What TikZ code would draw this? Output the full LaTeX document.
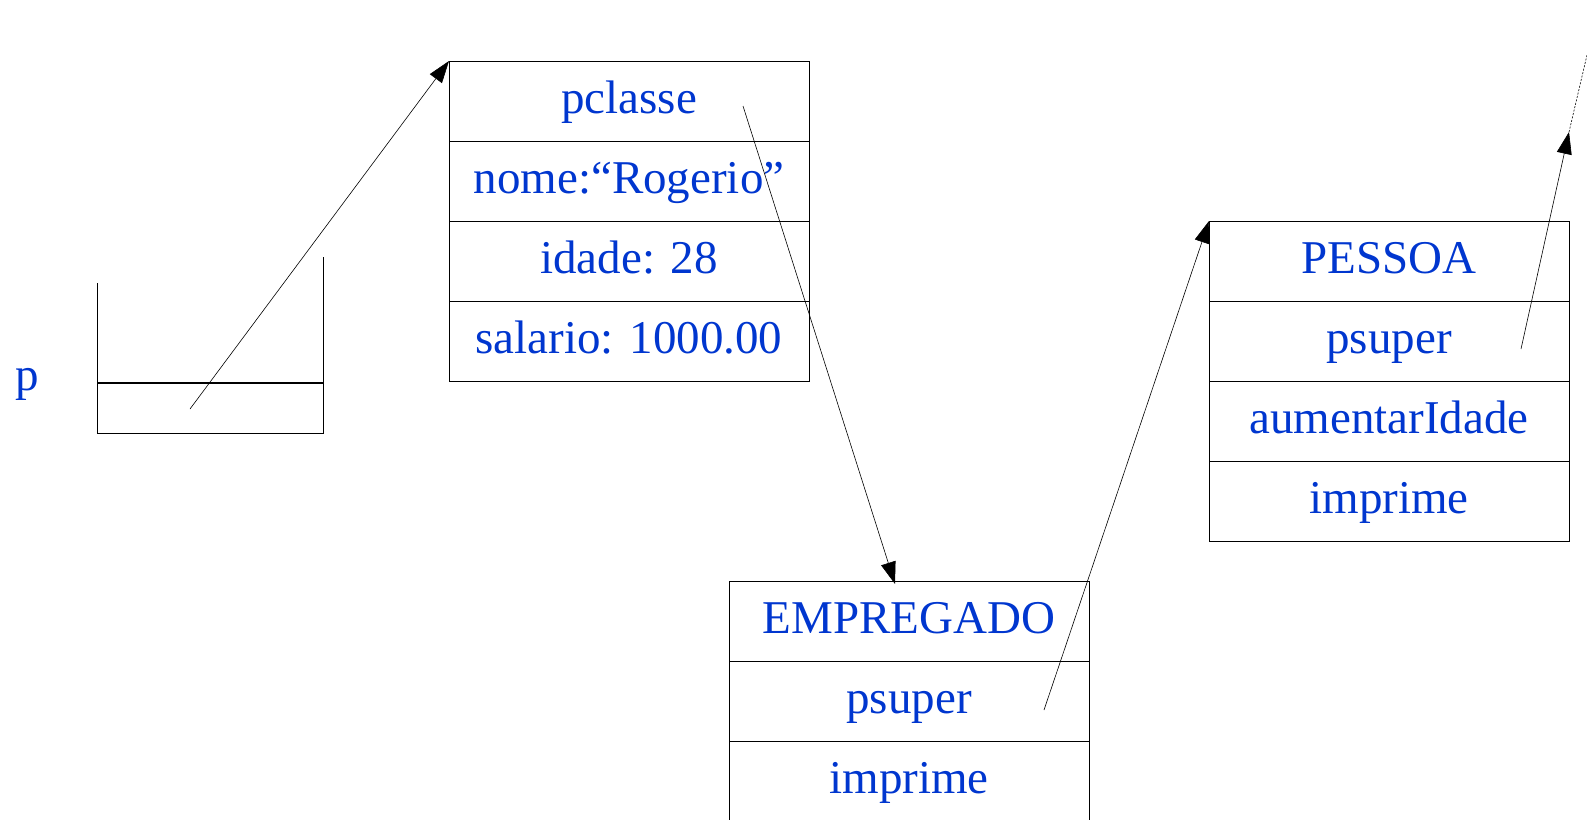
\documentclass[tikz,border=0pt]{standalone}
\usepackage{fontspec}
\setmainfont{Liberation Serif}
\usepackage{xcolor}
\usetikzlibrary{positioning,arrows.meta}
\definecolor{azul}{HTML}{0036CF}

\begin{document}
\begin{tikzpicture}[x=1pt,y=-1pt]
      \tikzset{cell/.style={rectangle,draw,line width=1pt,minimum width=360pt,minimum height=80pt,
          inner sep=0pt,outer sep=0pt,text height=36pt,text depth=12pt,
          font=\fontsize{47}{52}\selectfont,text=azul}}
      \tikzset{lbl/.style={font=\fontsize{47}{52}\selectfont,text=azul}}
      \tikzset{ptr/.style={draw,line width=0.6pt,-{Triangle[length=22pt,width=15pt]}}}
      \useasboundingbox (0,0) rectangle (1587,819);

      % variavel p
      \node[lbl,anchor=base] (p) at (27,390) {p};
      \draw[line width=1pt] (97,283) |- (323,433) -- (323,257);
      \draw[line width=2pt] (97,383) -- (323,383);
      \coordinate (pval) at (190,409);

      % objeto
      \node[cell,anchor=north west] (o1) at (449,61) {pclasse};
      \node[cell,below=0pt of o1] (o2) {nome:“Rogerio”};
      \node[cell,below=0pt of o2] (o3) {idade: 28};
      \node[cell,below=0pt of o3] (o4) {salario: 1000.00};
      \coordinate (pcl) at (743,106);

      % classe EMPREGADO
      \node[cell,anchor=north west] (e1) at (729,581) {EMPREGADO};
      \node[cell,below=0pt of e1] (e2) {psuper};
      \node[cell,below=0pt of e2] (e3) {imprime};
      \coordinate (esup) at (1044,710);

      % classe PESSOA
      \node[cell,anchor=north west] (c1) at (1209,221) {PESSOA};
      \node[cell,below=0pt of c1] (c2) {psuper};
      \node[cell,below=0pt of c2] (c3) {aumentarIdade};
      \node[cell,below=0pt of c3] (c4) {imprime};
      \coordinate (csup) at (1521,349);
      \coordinate (ctip) at (1569,132);
      \coordinate (cend) at (1587,55);

      \draw[ptr] (pval) -- (o1.north west);
      \draw[ptr] (pcl) -- ([xshift=-14pt,yshift=-3pt]e1.north);
      \draw[ptr] (esup) -- (c1.north west);
      \draw[ptr] (csup) -- (ctip);
      \draw[line width=0.6pt,dash pattern=on 2pt off 1.5pt] (ctip) -- (cend);
\end{tikzpicture}
\end{document}
